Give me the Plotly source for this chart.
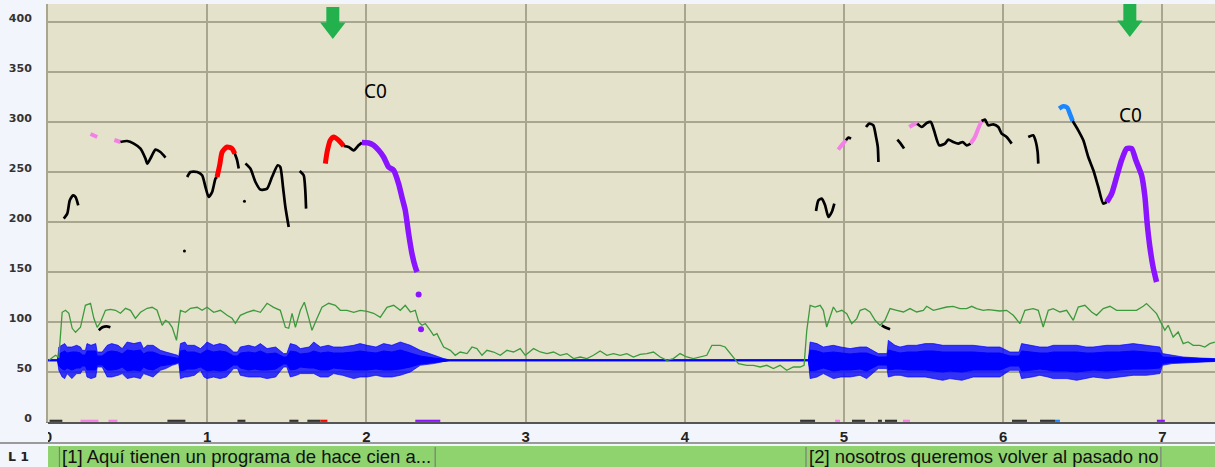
import plotly.graph_objects as go

# ---------------- axes ----------------
x_ticks = [0, 1, 2, 3, 4, 5, 6, 7]
x_ticklabels = ["0", "1", "2", "3", "4", "5", "6", "7"]
y_ticks = [0, 50, 100, 150, 200, 250, 300, 350, 400]
x_max = 7.33
y_max = 418

# ---------------- intensity curve (green) ----------------
int_t = [0.005, 0.047, 0.068, 0.089, 0.110, 0.131, 0.152, 0.173, 0.204, 0.235, 0.267, 0.288, 0.309, 0.330,
         0.361, 0.392, 0.424, 0.455, 0.487, 0.518, 0.549, 0.581, 0.623, 0.654, 0.685, 0.717, 0.738, 0.758,
         0.780, 0.807, 0.832, 0.863, 0.895, 0.937, 0.968, 0.999, 1.041, 1.083, 1.125, 1.156, 1.177, 1.208,
         1.250, 1.292, 1.334, 1.376, 1.417, 1.459, 1.491, 1.512, 1.533, 1.554, 1.585, 1.610, 1.637, 1.658,
         1.690, 1.721, 1.763, 1.805, 1.836, 1.878, 1.920, 1.962, 2.004, 2.045, 2.087, 2.129, 2.171, 2.213,
         2.244, 2.276, 2.307, 2.328, 2.349, 2.370, 2.401, 2.422, 2.443, 2.485, 2.527, 2.558, 2.589, 2.632,
         2.663, 2.694, 2.726, 2.757, 2.799, 2.841, 2.883, 2.924, 2.966, 2.998, 3.050, 3.092, 3.134, 3.175,
         3.217, 3.259, 3.301, 3.343, 3.385, 3.426, 3.468, 3.510, 3.552, 3.594, 3.636, 3.677, 3.719, 3.761,
         3.803, 3.845, 3.887, 3.928, 3.970, 4.012, 4.054, 4.096, 4.138, 4.170, 4.222, 4.253, 4.295, 4.337,
         4.389, 4.431, 4.473, 4.515, 4.556, 4.598, 4.640, 4.682, 4.724, 4.749, 4.766, 4.787, 4.818, 4.850,
         4.870, 4.891, 4.912, 4.933, 4.954, 4.986, 5.017, 5.048, 5.080, 5.101, 5.132, 5.163, 5.195, 5.226,
         5.257, 5.289, 5.331, 5.373, 5.414, 5.456, 5.498, 5.519, 5.561, 5.603, 5.645, 5.686, 5.728, 5.770,
         5.802, 5.833, 5.875, 5.906, 5.937, 5.979, 6.021, 6.063, 6.105, 6.136, 6.188, 6.220, 6.251, 6.283,
         6.314, 6.356, 6.398, 6.440, 6.471, 6.513, 6.555, 6.586, 6.628, 6.670, 6.712, 6.754, 6.795, 6.837,
         6.879, 6.900, 6.932, 6.963, 6.994, 7.015, 7.036, 7.067, 7.099, 7.130, 7.161, 7.193, 7.235, 7.266,
         7.297, 7.329]
int_v = [61.7, 66.7, 64.7, 109.7, 111.7, 108.7, 93.7, 89.7, 94.7, 116.7, 118.7, 103.7, 94.7, 99.7,
         111.7, 112.7, 111.7, 108.7, 113.7, 111.7, 103.7, 109.7, 113.7, 114.7, 111.7, 96.7, 101.7, 99.7,
         94.7, 81.7, 111.7, 109.7, 113.7, 114.7, 111.7, 114.7, 109.7, 111.7, 106.7, 103.7, 98.7, 106.7,
         109.7, 111.7, 109.7, 118.7, 114.7, 111.7, 94.7, 93.7, 108.7, 94.7, 111.7, 119.7, 104.7, 91.7,
         103.7, 114.7, 118.7, 116.7, 111.7, 111.7, 109.7, 111.7, 110.7, 108.7, 104.7, 114.7, 116.7, 111.7,
         116.7, 110.0, 111.7, 100.0, 96.7, 98.4, 91.7, 86.7, 88.4, 75.0, 71.7, 66.7, 70.0, 68.4,
         75.0, 73.4, 66.7, 71.7, 70.0, 66.7, 71.7, 70.0, 73.4, 66.7, 73.4, 70.0, 68.4, 70.0,
         66.7, 68.4, 63.4, 65.0, 63.4, 66.7, 71.0, 66.7, 68.4, 66.7, 68.4, 65.0, 67.7, 68.4,
         70.0, 65.0, 61.7, 63.4, 68.4, 65.0, 63.4, 65.0, 66.7, 76.7, 76.7, 75.0, 66.7, 58.4,
         56.7, 56.7, 55.0, 56.7, 53.4, 56.7, 51.7, 55.0, 55.0, 56.7, 91.7, 116.7, 115.0, 116.7,
         111.7, 95.0, 105.0, 115.0, 110.0, 111.7, 108.4, 98.4, 103.4, 111.7, 113.4, 110.0, 101.7, 96.7,
         101.7, 113.4, 111.7, 110.0, 113.4, 110.0, 111.7, 115.7, 111.7, 113.4, 115.0, 115.7, 113.4, 113.4,
         115.7, 113.4, 111.7, 112.4, 111.7, 111.0, 111.7, 106.7, 98.4, 111.7, 113.4, 111.7, 95.0, 111.7,
         113.4, 110.0, 111.7, 101.7, 115.0, 116.7, 110.0, 106.7, 113.4, 115.7, 111.7, 111.7, 111.7, 111.7,
         115.7, 118.4, 113.4, 108.4, 98.4, 91.7, 96.7, 85.0, 90.0, 78.4, 80.0, 76.7, 76.7, 75.0,
         78.4, 80.0]

# ---------------- waveform envelope (blue): outer peaks and dense core ----------------
wave_t = [0.000, 0.060, 0.068, 0.089, 0.105, 0.120, 0.150, 0.180, 0.204, 0.215, 0.235, 0.245, 0.270, 0.300,
          0.309, 0.340, 0.372, 0.400, 0.440, 0.466, 0.497, 0.540, 0.581, 0.600, 0.623, 0.660, 0.706, 0.740,
          0.780, 0.815, 0.821, 0.832, 0.860, 0.874, 0.920, 0.957, 0.980, 0.999, 1.040, 1.080, 1.120, 1.166,
          1.190, 1.208, 1.260, 1.300, 1.334, 1.376, 1.430, 1.480, 1.500, 1.522, 1.560, 1.585, 1.640, 1.669,
          1.711, 1.760, 1.794, 1.850, 1.920, 1.960, 2.004, 2.060, 2.108, 2.160, 2.213, 2.276, 2.338, 2.422,
          2.485, 2.520, 4.776, 4.787, 4.830, 4.870, 4.933, 4.980, 5.038, 5.100, 5.142, 5.215, 5.270, 5.278,
          5.320, 5.352, 5.400, 5.456, 5.510, 5.561, 5.620, 5.665, 5.740, 5.812, 5.900, 5.979, 6.042, 6.100,
          6.115, 6.180, 6.230, 6.280, 6.314, 6.400, 6.461, 6.520, 6.565, 6.649, 6.730, 6.816, 6.900, 6.984,
          7.000, 7.060, 7.130, 7.230, 7.329]
wave_hi = [62.2, 62.2, 75.0, 76.7, 78.4, 75.0, 75.0, 76.7, 75.0, 71.7, 71.7, 78.4, 76.7, 78.4,
           70.0, 70.0, 76.7, 78.4, 76.7, 73.4, 80.0, 78.4, 80.0, 73.4, 76.7, 76.7, 71.7, 70.0,
           68.4, 66.7, 65.0, 78.4, 80.0, 76.7, 76.7, 73.4, 76.7, 80.0, 76.7, 78.4, 76.7, 70.0,
           70.0, 75.0, 76.7, 75.0, 78.4, 73.4, 75.0, 68.4, 68.4, 78.4, 76.7, 73.4, 75.0, 80.0,
           75.0, 76.7, 75.0, 75.0, 76.7, 78.4, 76.7, 75.0, 78.4, 76.7, 80.0, 76.7, 71.7, 66.7,
           63.4, 62.2, 62.2, 80.0, 78.4, 75.0, 76.7, 75.0, 73.4, 75.0, 75.0, 68.4, 68.4, 81.7,
           76.7, 75.0, 76.7, 76.7, 78.4, 78.4, 76.7, 76.7, 76.7, 76.7, 75.0, 75.0, 70.0, 70.0,
           78.4, 76.7, 75.0, 75.0, 76.7, 76.7, 76.7, 75.0, 75.0, 76.7, 76.7, 78.4, 76.7, 75.0,
           68.4, 66.7, 65.0, 64.0, 63.4]
wave_lo = [61.2, 61.2, 51.7, 45.0, 43.4, 48.4, 43.4, 48.4, 48.4, 51.7, 51.7, 45.0, 43.4, 45.0,
           55.0, 55.0, 45.0, 45.0, 46.7, 48.4, 43.4, 45.0, 43.4, 48.4, 46.7, 45.0, 51.7, 53.4,
           56.7, 58.4, 60.0, 43.4, 45.0, 45.0, 46.7, 51.7, 45.0, 43.4, 45.0, 43.4, 45.0, 53.4,
           53.4, 46.7, 45.0, 45.0, 45.0, 43.4, 45.0, 55.0, 55.0, 45.0, 46.7, 48.4, 48.4, 48.4,
           45.0, 45.0, 48.4, 46.7, 43.4, 45.0, 45.0, 46.7, 45.0, 45.0, 46.7, 50.0, 56.7, 58.4,
           60.5, 61.2, 61.2, 43.4, 45.0, 48.4, 43.4, 45.0, 45.0, 46.7, 43.4, 53.4, 53.4, 45.0,
           46.7, 46.7, 45.0, 45.0, 45.0, 43.4, 41.7, 43.4, 41.7, 45.0, 45.0, 45.0, 51.7, 51.7,
           43.4, 45.0, 46.7, 45.0, 43.4, 43.4, 41.7, 43.4, 45.0, 43.4, 45.0, 46.7, 46.7, 48.4,
           56.7, 58.4, 59.5, 60.0, 60.5]
core_hi = [62.2, 62.2, 68, 70, 71, 69, 70, 70, 69, 67, 67, 71, 71, 71,
           66, 66, 70, 71, 70, 68, 72, 71, 72, 68, 70, 70, 67, 66,
           65, 64, 63.5, 71, 72, 70, 70, 68, 70, 72, 70, 71, 70, 66,
           66, 69, 70, 69, 71, 68, 69, 65, 65, 71, 70, 68, 69, 71,
           69, 70, 69, 69, 70, 71, 70, 69, 71, 70, 72, 69, 66, 64,
           62.7, 62.2, 62.2, 72, 71, 69, 70, 69, 68, 69, 69, 65, 65, 72,
           70, 69, 70, 70, 71, 71, 70, 70, 70, 70, 69, 69, 66, 66,
           71, 70, 69, 69, 70, 70, 70, 69, 69, 70, 70, 71, 70, 69,
           65, 64.5, 64, 63.4, 63]
core_lo = [61.2, 61.2, 56, 53, 52, 54, 52, 54, 54, 56, 56, 52, 52, 52,
           57, 57, 52, 52, 53, 55, 51, 52, 51, 55, 53, 52, 56, 57,
           58, 59.5, 60, 51, 52, 53, 53, 55, 53, 51, 52, 51, 52, 57,
           57, 54, 52, 53, 52, 52, 53, 58, 58, 52, 53, 55, 54, 54,
           52, 52, 54, 53, 52, 52, 52, 53, 52, 52, 53, 55, 58, 59.5,
           60.8, 61.2, 61.2, 51, 52, 54, 51, 52, 52, 53, 51, 57, 57, 52,
           53, 53, 52, 52, 52, 51, 50, 51, 50, 52, 52, 52, 56, 56,
           51, 52, 53, 52, 51, 51, 50, 51, 52, 51, 52, 53, 53, 54,
           58.5, 59.5, 60, 60.5, 60.8]

# ---------------- pitch contours ----------------
k1_t = [0.099, 0.121, 0.137, 0.158, 0.173, 0.190]
k1_f = [203.4, 208.4, 221.7, 226.7, 225.0, 216.7]
p1_t = [0.267, 0.309]
p1_f = [288.0, 285.0]
p2_t = [0.417, 0.455]
p2_f = [282.0, 280.0]
k2_t = [0.455, 0.497, 0.539, 0.581, 0.612, 0.623, 0.643, 0.675, 0.706, 0.738]
k2_f = [280.0, 281.0, 278.4, 273.4, 263.4, 258.4, 263.4, 272.4, 270.0, 264.4]
k3_t = [0.319, 0.342, 0.367, 0.392]
k3_f = [91.7, 94.7, 95.7, 94.7]
k4_t = [0.874, 0.895, 0.937, 0.968, 0.989, 1.009, 1.031, 1.052, 1.062]
k4_f = [245.0, 250.0, 250.0, 246.7, 235.0, 225.0, 230.0, 243.4, 245.0]
r1_t = [1.062, 1.078, 1.094, 1.125, 1.156, 1.173]
r1_f = [245.0, 256.7, 270.0, 275.0, 273.4, 268.4]
k5_t = [1.173, 1.188, 1.198]
k5_f = [268.4, 261.7, 253.4]
k6_t = [1.240, 1.271, 1.303, 1.334, 1.376, 1.407, 1.443, 1.459, 1.476, 1.491, 1.512]
k6_f = [258.4, 253.4, 240.0, 232.4, 233.4, 245.0, 256.7, 255.0, 235.0, 215.0, 195.0]
k7_t = [1.581, 1.606, 1.616, 1.621]
k7_f = [251.0, 246.7, 231.7, 213.4]
r2_t = [1.742, 1.753, 1.773, 1.794, 1.826, 1.857]
r2_f = [258.4, 270.0, 281.7, 285.0, 281.7, 276.0]
k8_t = [1.857, 1.888, 1.920, 1.951, 1.972]
k8_f = [276.0, 275.0, 271.7, 276.7, 279.4]
v1_t = [1.972, 2.014, 2.045, 2.077, 2.108, 2.139, 2.171, 2.202, 2.223, 2.244, 2.265, 2.286, 2.307, 2.318]
v1_f = [279.4, 279.0, 276.7, 271.7, 265.0, 255.0, 251.7, 238.4, 225.0, 211.7, 188.4, 168.4, 155.0, 150.0]

q1_t = [4.824, 4.839, 4.860, 4.881, 4.902, 4.923, 4.939]
q1_f = [211.0, 221.7, 223.4, 216.7, 205.0, 210.0, 218.4]
q2_t = [4.964, 4.985, 5.012]
q2_f = [272.4, 276.7, 281.7]
q3_t = [5.012, 5.027, 5.044]
q3_f = [281.7, 284.4, 283.4]
q4_t = [5.138, 5.159, 5.184, 5.201, 5.212, 5.216]
q4_f = [295.0, 298.4, 296.7, 285.0, 275.0, 260.0]
q5_t = [5.237, 5.257, 5.289]
q5_f = [96.7, 94.7, 92.7]
q6_t = [5.335, 5.356, 5.377]
q6_f = [282.4, 278.4, 273.4]
q7_t = [5.410, 5.435, 5.460]
q7_f = [295.0, 297.4, 298.4]
q8_t = [5.460, 5.488, 5.519, 5.545, 5.565, 5.598, 5.634, 5.655, 5.686, 5.718, 5.745, 5.770, 5.795]
q8_f = [298.4, 295.0, 299.0, 300.0, 291.7, 276.7, 278.4, 282.4, 280.0, 278.4, 280.0, 276.7, 278.4]
q9_t = [5.795, 5.822, 5.843, 5.864]
q9_f = [278.4, 285.0, 293.4, 301.0]
q10_t = [5.864, 5.885, 5.906, 5.937, 5.969, 5.990, 6.021, 6.053]
q10_f = [301.0, 302.4, 296.7, 297.7, 295.0, 288.4, 285.0, 278.4]
q11_t = [6.157, 6.188, 6.205, 6.216, 6.220]
q11_f = [285.0, 286.7, 280.0, 270.0, 258.4]
b1_t = [6.351, 6.376, 6.402, 6.418, 6.436]
b1_f = [313.4, 315.7, 314.4, 308.4, 301.0]
q12_t = [6.436, 6.471, 6.503, 6.534, 6.566, 6.597, 6.628, 6.650]
q12_f = [301.0, 291.7, 281.7, 265.0, 251.7, 235.0, 218.4, 220.0]
v2_t = [6.650, 6.681, 6.712, 6.743, 6.775, 6.806, 6.833, 6.869, 6.890, 6.904, 6.921, 6.941, 6.963]
v2_f = [220.0, 228.4, 245.0, 261.7, 273.4, 273.4, 261.7, 246.7, 225.0, 198.4, 175.0, 155.0, 140.0]

dot_t = [0.857, 1.234]
dot_f = [171.0, 220.7]
vdot_t = [2.328, 2.343]
vdot_f = [127.4, 92.7]

# marks lying on the time axis
mark_start = [0.010, 0.204, 0.380, 0.750, 1.190, 1.516, 1.629, 1.711, 2.307,
              4.724, 4.944, 5.050, 5.213, 5.257, 5.370, 6.055, 6.231, 6.325, 6.965]
mark_end = [0.090, 0.317, 0.436, 0.863, 1.240, 1.573, 1.711, 1.755, 2.464,
            4.818, 4.975, 5.132, 5.238, 5.333, 5.414, 6.149, 6.325, 6.356, 7.015]
mark_kind = ["k", "p", "p", "k", "k", "k", "k", "r", "v",
             "k", "p", "k", "k", "k", "p", "k", "k", "b", "v"]

# arrows and labels
arrow_t = [1.789, 6.795]
arrow_top = [415, 418]
arrow_bottom = [399, 401]
arrow_head = [394, 396]
label_t = [2.056, 6.802]
label_f = [331, 307]
label_text = ["C0", "C0"]

# transcription tier
seg_start = [0.072, 4.761]
seg_end = [2.432, 6.990]
seg_text = ["[1] Aquí tienen un programa de hace cien a...",
            "[2] nosotros queremos volver al pasado no"]
tier_name = "L 1"

# ---------------- style ----------------
COL = {"k": "#000000", "p": "#f47fe6", "r": "#ff0000", "v": "#8a14ff", "b": "#1a86ff"}
WID = {"k": 2.7, "p": 4.0, "r": 5.0, "v": 5.5, "b": 4.5}
MARK_COL = {"k": "#333333", "p": "#f47fe6", "r": "#ff0000", "v": "#8a14ff", "b": "#1a86ff"}
GREEN_ARROW = "#22b14c"
BG_PAPER = "#f2f5fb"
BG_PLOT = "#e5e2cc"
GRID = "#a9a690"

contours = [
    (k1_t, k1_f, "k"), (p1_t, p1_f, "p"), (p2_t, p2_f, "p"), (k2_t, k2_f, "k"), (k3_t, k3_f, "k"),
    (k4_t, k4_f, "k"), (r1_t, r1_f, "r"), (k5_t, k5_f, "k"), (k6_t, k6_f, "k"), (k7_t, k7_f, "k"),
    (r2_t, r2_f, "r"), (k8_t, k8_f, "k"), (v1_t, v1_f, "v"),
    (q1_t, q1_f, "k"), (q2_t, q2_f, "p"), (q3_t, q3_f, "k"), (q4_t, q4_f, "k"), (q5_t, q5_f, "k"),
    (q6_t, q6_f, "k"), (q7_t, q7_f, "p"), (q8_t, q8_f, "k"), (q9_t, q9_f, "p"), (q10_t, q10_f, "k"),
    (q11_t, q11_f, "k"), (b1_t, b1_f, "b"), (q12_t, q12_f, "k"), (v2_t, v2_f, "v"),
]

fig = go.Figure()

# waveform: outer peaks and dense core
fig.add_trace(go.Scatter(
    x=wave_t + wave_t[::-1], y=wave_hi + wave_lo[::-1],
    mode="lines", fill="toself", fillcolor="rgba(10,10,255,0.82)",
    line=dict(color="rgba(0,0,255,0.85)", width=0.8), hoverinfo="skip"))
fig.add_trace(go.Scatter(
    x=wave_t + wave_t[::-1], y=core_hi + core_lo[::-1],
    mode="lines", fill="toself", fillcolor="#0000ff",
    line=dict(color="#0000ff", width=1), hoverinfo="skip"))

# intensity
fig.add_trace(go.Scatter(x=int_t, y=int_v, mode="lines",
                         line=dict(color="#3c9a3c", width=1.3), hoverinfo="skip"))

# pitch contours
for t, f, kind in contours:
    fig.add_trace(go.Scatter(x=t, y=f, mode="lines",
                             line=dict(color=COL[kind], width=WID[kind], shape="spline", smoothing=0.6),
                             hoverinfo="skip"))

fig.add_trace(go.Scatter(x=dot_t, y=dot_f, mode="markers",
                         marker=dict(color="#000000", size=3), hoverinfo="skip"))
fig.add_trace(go.Scatter(x=vdot_t, y=vdot_f, mode="markers",
                         marker=dict(color=COL["v"], size=6), hoverinfo="skip"))

# axis marks
for kind in ["k", "p", "r", "v", "b"]:
    xs, ys = [], []
    for s, e, k in zip(mark_start, mark_end, mark_kind):
        if k == kind:
            xs += [s, e, None]
            ys += [1.2, 1.2, None]
    fig.add_trace(go.Scatter(x=xs, y=ys, mode="lines", cliponaxis=False,
                             line=dict(color=MARK_COL[kind], width=2.2), hoverinfo="skip"))

# green arrows
for t, top, bot, head in zip(arrow_t, arrow_top, arrow_bottom, arrow_head):
    fig.add_trace(go.Scatter(x=[t, t], y=[top, bot], mode="lines", cliponaxis=False,
                             line=dict(color=GREEN_ARROW, width=13), hoverinfo="skip"))
    fig.add_trace(go.Scatter(x=[t], y=[head], mode="markers", cliponaxis=False,
                             marker=dict(symbol="triangle-down", size=22, color=GREEN_ARROW,
                                         line=dict(width=0)), hoverinfo="skip"))

# labels C0
for t, f, txt in zip(label_t, label_f, label_text):
    fig.add_annotation(x=t, y=f, xref="x", yref="y", text=txt, showarrow=False,
                       font=dict(family="Noto Sans, Open Sans, sans-serif", size=19, color="#000000"))

# ---------------- tier row ----------------
PX_PLOT_H = 418.0
def py(pix_below_axis):
    return -pix_below_axis / PX_PLOT_H

shapes = []
shapes.append(dict(type="rect", xref="paper", yref="paper", x0=-0.05, x1=0, y0=py(20), y1=py(0.8),
                   fillcolor=BG_PAPER, line=dict(width=0), layer="above"))
shapes.append(dict(type="line", xref="paper", yref="paper", x0=-0.05, x1=1, y0=py(21), y1=py(21),
                   line=dict(color="#9a9a9a", width=2), layer="above"))
shapes.append(dict(type="rect", xref="paper", yref="paper", x0=0, x1=1, y0=py(45), y1=py(24),
                   fillcolor="#8fd36e", line=dict(width=0), layer="above"))
for s, e in zip(seg_start, seg_end):
    for xx in (s, e):
        shapes.append(dict(type="line", xref="x", yref="paper", x0=xx, x1=xx, y0=py(45), y1=py(25),
                           line=dict(color="#7d7d7d", width=1.2), layer="above"))
fig.update_layout(shapes=shapes)

for s, txt in zip(seg_start, seg_text):
    fig.add_annotation(x=s, y=py(34.5), xref="x", yref="paper", text=txt, showarrow=False,
                       xanchor="left", yanchor="middle", xshift=1,
                       font=dict(family="Liberation Sans, Arial, sans-serif", size=18.5, color="#111111"))
fig.add_annotation(x=-30 / 1167, y=py(34), xref="paper", yref="paper", text=tier_name, showarrow=False,
                   xanchor="center", yanchor="middle",
                   font=dict(family="DejaVu Sans, sans-serif", size=12.5, color="#222222", weight="bold"))

fig.update_layout(
    width=1215, height=467,
    margin=dict(l=48, r=0, t=4, b=45, autoexpand=False),
    paper_bgcolor=BG_PAPER, plot_bgcolor=BG_PLOT,
    showlegend=False,
    xaxis=dict(range=[0, x_max], tickvals=x_ticks, ticktext=x_ticklabels,
               showgrid=True, gridcolor=GRID, gridwidth=2, zeroline=False,
               showline=True, linecolor="#555555", linewidth=1.5, ticks="",
               tickfont=dict(family="Liberation Sans Narrow, Liberation Sans, Arial", size=15,
                             color="#222222", weight="bold"),
               fixedrange=True),
    yaxis=dict(range=[0, y_max], tickvals=y_ticks,
               showgrid=True, gridcolor=GRID, gridwidth=2, zeroline=False,
               showline=True, linecolor=GRID, linewidth=2, ticks="",
               ticklabelstandoff=12, ticklabelshift=-4,
               tickfont=dict(family="DejaVu Sans, sans-serif", size=11, color="#333333", weight="bold"),
               fixedrange=True),
)

fig.write_html("out.html", config={"displayModeBar": False},
               post_script="document.body.style.margin='0px';document.body.style.padding='0px';"
                           "document.body.style.overflow='hidden';")
